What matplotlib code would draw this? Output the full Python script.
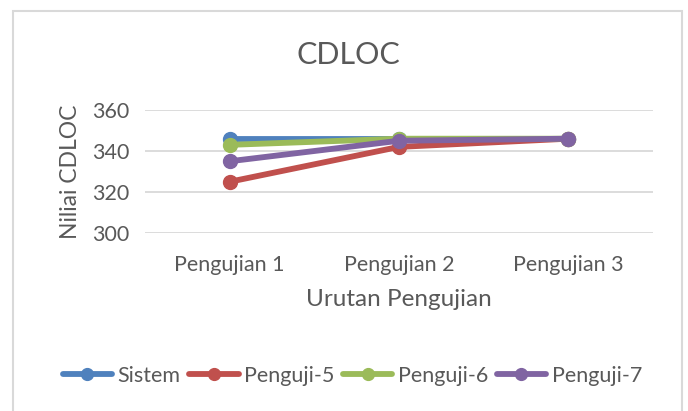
"""CDLOC line chart recreated in matplotlib."""

import matplotlib
matplotlib.use("Agg")
import matplotlib.pyplot as plt
from matplotlib.patches import Rectangle

categories = ["Pengujian 1", "Pengujian 2", "Pengujian 3"]
sistem = [346, 346, 346]
penguji_5 = [325, 342, 346]
penguji_6 = [343, 346, 346]
penguji_7 = [335, 345, 346]
y_ticks = [300, 320, 340, 360]

series = [
    ("Sistem", sistem, "#4F81BD"),
    ("Penguji-5", penguji_5, "#C0504D"),
    ("Penguji-6", penguji_6, "#9BBB59"),
    ("Penguji-7", penguji_7, "#8064A2"),
]

plt.rcParams["font.family"] = ["Lato", "DejaVu Sans"]
text_color = "#595959"

fig = plt.figure(figsize=(6.88, 4.11), dpi=100)
ax = fig.add_axes([145 / 688, 1 - 233 / 411, (653 - 145) / 688, (233 - 110) / 411])

# chart border, like the Excel chart area
fig.patches.append(Rectangle((12.5 / 688, -0.02), (682 - 12.5) / 688, 1.02 - 10.5 / 411,
                             transform=fig.transFigure, fill=False,
                             edgecolor="#D9D9D9", linewidth=1.5))

x = list(range(len(categories)))
for name, values, color in series:
    ax.plot(x, values, color=color, linewidth=4.2, marker="o", markersize=10,
            label=name, solid_capstyle="round")

ax.set_xlim(-0.5, len(categories) - 0.5)
ax.set_ylim(y_ticks[0], y_ticks[-1])
ax.set_yticks(y_ticks)
ax.set_xticks(x)
ax.set_xticklabels(categories)
ax.tick_params(axis="both", length=0, labelsize=15.5, labelcolor=text_color)
ax.tick_params(axis="x", pad=16)
ax.tick_params(axis="y", pad=11)
ax.grid(axis="y", color="#D9D9D9", linewidth=1.3)
ax.set_axisbelow(True)
for spine in ax.spines.values():
    spine.set_visible(False)
ax.set_clip_on(False)

ax.set_xlabel("Urutan Pengujian", fontsize=17.5, color=text_color, labelpad=10)
ax.set_ylabel("Niliai CDLOC", fontsize=16.5, color=text_color, labelpad=8)
fig.text(0.506, 1 - 55 / 411, "CDLOC", ha="center", va="center",
         fontsize=22, color=text_color)

fig.legend(loc="center", bbox_to_anchor=(0.512, 1 - 376 / 411), ncol=4,
           frameon=False, fontsize=15.5, labelcolor=text_color,
           handlelength=2.3, handletextpad=0.25, columnspacing=0.4,
           markerscale=0.85)

fig.savefig("out.png", dpi=100)
plt.close(fig)
